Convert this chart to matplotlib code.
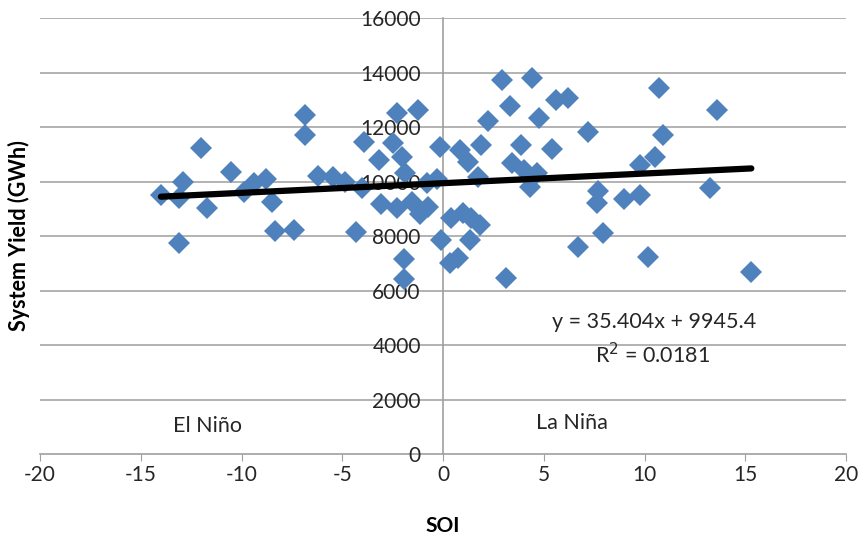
import numpy as np
import matplotlib.pyplot as plt

plt.rcParams['font.family'] = ['Lato', 'DejaVu Sans']
plt.rcParams['axes.unicode_minus'] = False

# SOI y rendimiento del sistema (GWh)
soi = [-14.0, -13.1, -12.9, -13.1, -12.0, -11.7, -10.5, -9.9, -9.4, -8.8,
       -8.5, -8.35, -7.4, -6.85, -6.85, -6.2, -5.45, -4.85, -4.3, -4.0,
       -3.9, -3.2, -3.1, -2.5, -2.3, -2.3, -2.05, -1.9, -1.55, -1.25,
       -1.15, -0.75, -0.8, -0.3, -0.15, -1.95, -1.95, -0.1,
       0.4, 1.0, 1.4, 1.85, 0.35, 0.75, 0.85, 1.25, 1.35, 1.75, 1.9, 2.25,
       2.95, 3.15, 3.3, 3.4, 3.85, 4.0, 4.3, 4.4, 4.65, 4.75, 5.4, 5.6,
       6.2, 6.7, 7.2, 7.7, 7.65, 7.95, 9.0, 9.8, 9.8, 10.15, 10.5, 10.7,
       10.9, 13.25, 13.6, 15.3]
rendimiento = [9500, 9420, 10000, 7760, 11250, 9020, 10370, 9630, 9940, 10100,
               9270, 8190, 8230, 12450, 11700, 10200, 10160, 10000, 8150, 9780,
               11450, 10800, 9180, 11410, 12510, 9050, 10900, 10330, 9250, 12630,
               8820, 9080, 9950, 10100, 11260, 7150, 6420, 7860,
               8650, 8840, 8650, 8410, 7010, 7190, 11160, 10730, 7860, 10180, 11350, 12230,
               13730, 6460, 12780, 10680, 11330, 10430, 9820, 13790, 10310, 12330, 11190, 13000,
               13060, 7620, 11820, 9650, 9200, 8100, 9350, 9510, 10600, 7250, 10920, 13430,
               11710, 9760, 12630, 6700]

# Linea de tendencia (ecuacion mostrada en el grafico)
pendiente = 35.404
intercepto = 9945.4

fig = plt.figure(figsize=(8.64, 5.41), dpi=100)
ax = fig.add_axes([0.0463, 0.1604, 0.9329, 0.806])

ax.set_xlim(-20, 20)
ax.set_ylim(0, 16000)
ax.set_xticks(np.arange(-20, 21, 5))
ax.set_yticks(np.arange(0, 16001, 2000))

for yv in np.arange(2000, 16001, 2000):
    ax.axhline(yv, color='#a6a6a6', lw=1.2, zorder=0)

ax.spines['left'].set_position(('data', 0))
ax.spines['top'].set_visible(False)
ax.spines['right'].set_visible(False)
for s in ['left', 'bottom']:
    ax.spines[s].set_color('#a0a0a0')
    ax.spines[s].set_linewidth(1.2)
    ax.spines[s].set_zorder(0)

ax.tick_params(axis='x', direction='out', length=5, color='#a0a0a0', labelsize=15,
               pad=3, labelcolor='#262626')
ax.tick_params(axis='y', length=0, labelsize=15, pad=16, labelcolor='#262626')

ax.plot(soi, rendimiento, 'D', color='#4F81BD', markersize=11, markeredgewidth=0,
        zorder=3)

x = np.array([min(soi), max(soi)])
ax.plot(x, pendiente * x + intercepto, color='black', lw=4.5, solid_capstyle='round',
        zorder=4)

ax.text(10.5, 4850, 'y = 35.404x + 9945.4', fontsize=15.5, ha='center', va='center',
        color='#262626')
ax.text(10.4, 3650, 'R$^2$ = 0.0181', fontsize=15.5, ha='center', va='center',
        color='#262626')
ax.text(-11.7, 1050, 'El Niño', fontsize=15.5, ha='center', va='center', color='#262626')
ax.text(6.4, 1150, 'La Niña', fontsize=15.5, ha='center', va='center', color='#262626')

ax.set_xlabel('SOI', fontsize=15, fontweight='bold', labelpad=22)
fig.text(0.022, 0.565, 'System Yield (GWh)', fontsize=15.5, fontweight='bold',
         rotation=90, ha='center', va='center')

fig.savefig('out.png', dpi=100)
